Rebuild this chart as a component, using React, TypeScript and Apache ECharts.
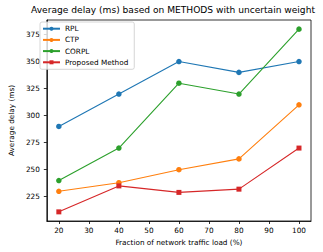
import React, { useEffect, useRef } from "react";
import * as echarts from "echarts";

const loads = [20, 40, 60, 80, 100];
const rpl = [290, 320, 350, 340, 350];
const ctp = [230, 238, 250, 260, 310];
const corpl = [240, 270, 330, 320, 380];
const proposed = [211, 235, 229, 232, 270];
const xTicks = [20, 30, 40, 50, 60, 70, 80, 90, 100];
const yTicks = [225, 250, 275, 300, 325, 350, 375];

const FONT = "DejaVu Sans";

export default function App() {
  const ref = useRef<HTMLDivElement>(null);
  useEffect(() => {
    if (!ref.current) return;
    const chart = echarts.init(ref.current, null, { renderer: "svg" });
    const all = [...rpl, ...ctp, ...corpl, ...proposed];
    const dmin = Math.min(...all);
    const dmax = Math.max(...all);
    const m = (dmax - dmin) * 0.05;
    const mk = (name: string, data: number[], color: string, symbol: string) => ({
      name,
      type: "line",
      data: loads.map((x, i) => [x, data[i]]),
      symbol,
      symbolSize: symbol === "rect" ? 5 : 5.5,
      lineStyle: { color, width: 1.1 },
      itemStyle: { color },
      emphasis: { disabled: true },
    });
    chart.setOption({
      animation: false,
      textStyle: { fontFamily: FONT },
      graphic: [
        {
          type: "text",
          x: 173,
          y: 10,
          style: {
            text: "Average delay (ms) based on METHODS with uncertain weight",
            font: `9.1px '${FONT}'`,
            fill: "#000",
            textAlign: "center",
            textVerticalAlign: "middle",
          },
        },
      ],
      grid: {
        left: 36,
        right: 12,
        top: 20,
        bottom: 31,
        show: true,
        borderColor: "#000",
        borderWidth: 0.8,
        backgroundColor: "transparent",
      },
      legend: {
        orient: "vertical",
        left: 40,
        top: 22,
        itemWidth: 17,
        itemHeight: 5,
        itemGap: 3.2,
        padding: [2.7, 6, 3, 2],
        backgroundColor: "rgba(255,255,255,0.8)",
        borderColor: "#cccccc",
        borderWidth: 0.8,
        borderRadius: 2,
        textStyle: { fontFamily: FONT, fontSize: 7.3, color: "#000", lineHeight: 8 },
        data: ["RPL", "CTP", "CORPL", "Proposed Method"],
      },
      xAxis: {
        type: "value",
        min: 16,
        max: 104,
        name: "Fraction of network traffic load (%)",
        nameLocation: "middle",
        nameGap: 16,
        nameTextStyle: { fontFamily: FONT, fontSize: 7.3, color: "#000" },
        axisLine: { show: true, lineStyle: { color: "#000", width: 0.8 } },
        axisTick: { show: true, length: 3, customValues: xTicks, lineStyle: { color: "#000", width: 0.8 } },
        axisLabel: { customValues: xTicks, fontFamily: FONT, fontSize: 7.3, color: "#000", margin: 6 },
        splitLine: { show: false },
      },
      yAxis: {
        type: "value",
        min: dmin - m,
        max: dmax + m,
        name: "Average delay (ms)",
        nameLocation: "middle",
        nameGap: 30,
        nameTextStyle: { fontFamily: FONT, fontSize: 7.3, color: "#000" },
        axisLine: { show: true, lineStyle: { color: "#000", width: 0.8 } },
        axisTick: { show: true, length: 3, customValues: yTicks, lineStyle: { color: "#000", width: 0.8 } },
        axisLabel: { customValues: yTicks, fontFamily: FONT, fontSize: 7.3, color: "#000", margin: 7 },
        splitLine: { show: false },
      },
      series: [
        mk("RPL", rpl, "#1f77b4", "circle"),
        mk("CTP", ctp, "#ff7f0e", "circle"),
        mk("CORPL", corpl, "#2ca02c", "circle"),
        mk("Proposed Method", proposed, "#d62728", "rect"),
      ],
    });
    return () => chart.dispose();
  }, []);
  return (
    <div
      ref={ref}
      style={{ position: "fixed", left: 0, top: 0, width: 323, height: 252, background: "#fff" }}
    />
  );
}
